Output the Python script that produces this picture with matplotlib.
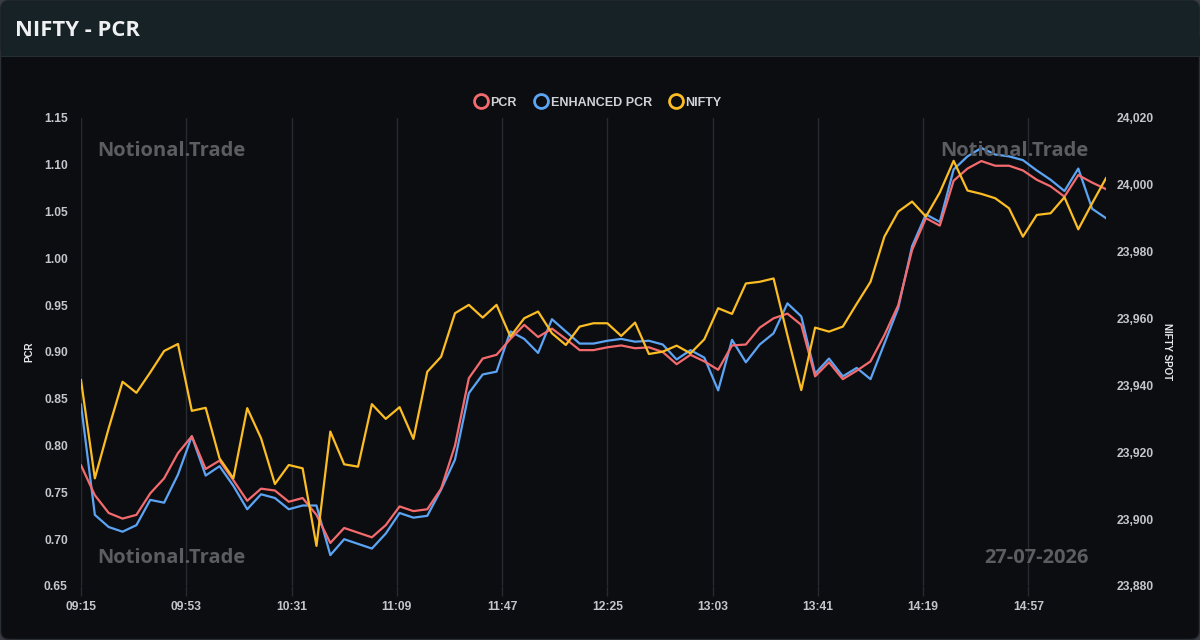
"""
NIFTY - PCR intraday chart (PCR, enhanced PCR and NIFTY spot on twin axes).
"""
import numpy as np
import matplotlib
matplotlib.use('Agg')
import matplotlib.pyplot as plt
from matplotlib.patches import FancyBboxPatch, Rectangle
from matplotlib.lines import Line2D
from matplotlib.ticker import FuncFormatter, FixedLocator

# Data (5 minute snapshots from 09:15 to 15:25)
minutes = list(range(0, 375, 5))

pcr = [0.779, 0.747, 0.728, 0.722, 0.726, 0.749, 0.765, 0.792, 0.810, 0.775,
       0.784, 0.763, 0.741, 0.754, 0.752, 0.740, 0.744, 0.726, 0.696, 0.712,
       0.707, 0.702, 0.715, 0.735, 0.730, 0.732, 0.754, 0.800, 0.872, 0.893,
       0.897, 0.914, 0.929, 0.916, 0.925, 0.914, 0.902, 0.902, 0.905, 0.907,
       0.904, 0.905, 0.900, 0.887, 0.897, 0.890, 0.881, 0.907, 0.908, 0.926,
       0.936, 0.941, 0.929, 0.874, 0.889, 0.871, 0.880, 0.890, 0.918, 0.950,
       1.009, 1.043, 1.035, 1.083, 1.096, 1.104, 1.099, 1.099, 1.094, 1.084,
       1.077, 1.066, 1.089, 1.081, 1.074]

enhanced_pcr = [0.844, 0.726, 0.713, 0.708, 0.715, 0.742, 0.739, 0.769, 0.810, 0.768,
                0.778, 0.757, 0.732, 0.748, 0.744, 0.732, 0.736, 0.736, 0.683, 0.700,
                0.695, 0.690, 0.706, 0.728, 0.723, 0.725, 0.753, 0.785, 0.856, 0.876,
                0.879, 0.922, 0.914, 0.899, 0.935, 0.922, 0.909, 0.909, 0.912, 0.914,
                0.911, 0.912, 0.908, 0.892, 0.902, 0.894, 0.859, 0.913, 0.889, 0.908,
                0.920, 0.952, 0.938, 0.877, 0.893, 0.874, 0.883, 0.871, 0.909, 0.947,
                1.013, 1.047, 1.039, 1.095, 1.109, 1.118, 1.111, 1.109, 1.105, 1.094,
                1.084, 1.072, 1.096, 1.053, 1.043]

nifty = [23941.6, 23912.2, 23927.2, 23941.1, 23937.8, 23943.9, 23950.3, 23952.4, 23932.4, 23933.3,
         23918.2, 23912.2, 23933.2, 23924.2, 23910.5, 23916.2, 23915.2, 23892.0, 23926.2, 23916.4,
         23915.7, 23934.4, 23930.0, 23933.5, 23924.0, 23944.1, 23948.6, 23961.6, 23964.1, 23960.3,
         23964.1, 23954.6, 23960.1, 23962.1, 23955.6, 23952.1, 23957.6, 23958.6, 23958.6, 23954.8,
         23958.8, 23949.4, 23950.1, 23951.9, 23949.6, 23953.8, 23963.1, 23961.4, 23970.5, 23971.0,
         23972.0, 23955.0, 23938.6, 23957.3, 23956.1, 23957.6, 23964.4, 23971.0, 23984.5, 23992.0,
         23995.0, 23990.5, 23997.7, 24007.2, 23998.3, 23997.3, 23996.0, 23993.0, 23984.5, 23991.0,
         23991.5, 23996.3, 23986.7, 23994.5, 24002.0]

tick_minutes = [0, 38, 76, 114, 152, 190, 228, 266, 304, 342]
tick_labels = ['09:15', '09:53', '10:31', '11:09', '11:47', '12:25', '13:03', '13:41', '14:19', '14:57']

# Colours
BG = '#0c0d11'
HEADER = '#172226'
GRID = '#272a30'
TXT = '#c3c6cc'
WM = '#5b5d61'
C_PCR = '#f46b6e'
C_ENH = '#5ca4f4'
C_NIFTY = '#fbbd23'

plt.rcParams['font.family'] = ['Liberation Sans', 'DejaVu Sans']

fig = plt.figure(figsize=(12, 6.4), dpi=100)
fig.patch.set_facecolor('#3a3e44')

# card + header
card = FancyBboxPatch((0.5 / 1200, 0.5 / 640), 1199 / 1200, 639 / 640,
                      boxstyle='round,pad=0,rounding_size=0.007',
                      transform=fig.transFigure, facecolor=BG, edgecolor='#2a2f35',
                      lw=1, zorder=-3, mutation_aspect=1200 / 640)
fig.patches.append(card)
header = FancyBboxPatch((0.5 / 1200, 1 - 56 / 640), 1199 / 1200, 55.5 / 640,
                        boxstyle='round,pad=0,rounding_size=0.007',
                        transform=fig.transFigure, facecolor=HEADER, edgecolor='none',
                        zorder=-2, mutation_aspect=1200 / 640)
fig.patches.append(header)
fig.patches.append(Rectangle((0.5 / 1200, 1 - 56 / 640), 1199 / 1200, 20 / 640,
                             transform=fig.transFigure, facecolor=HEADER,
                             edgecolor='none', zorder=-2))
fig.patches.append(Rectangle((0, 1 - 57 / 640), 1, 1.5 / 640,
                             transform=fig.transFigure, facecolor='#263034',
                             edgecolor='none', zorder=-1))
fig.text(15 / 1200, 1 - 31 / 640, 'NIFTY - PCR', color='#eef0f2', fontsize=15.8,
         fontweight='bold', family=['Open Sans', 'DejaVu Sans'], va='center', ha='left')

# axes
ax = fig.add_axes([81 / 1200, 1 - 586 / 640, 1025 / 1200, 468 / 640])
ax.set_facecolor('none')
ax2 = ax.twinx()

ax.plot(minutes, pcr, color=C_PCR, lw=1.6, zorder=3)
ax.plot(minutes, enhanced_pcr, color=C_ENH, lw=1.6, zorder=2)
ax2.plot(minutes, nifty, color=C_NIFTY, lw=1.6, zorder=1)

ax.set_xlim(0, 370)
ax.set_ylim(0.65, 1.15)
ax2.set_ylim(23880, 24020)

ax.xaxis.set_major_locator(FixedLocator(tick_minutes))
ax.set_xticklabels(tick_labels)
ax.set_yticks(np.arange(0.65, 1.151, 0.05))
ax.yaxis.set_major_formatter(FuncFormatter(lambda v, p: f'{v:.2f}'))
ax2.set_yticks(np.arange(23880, 24021, 20))
ax2.yaxis.set_major_formatter(FuncFormatter(lambda v, p: f'{v:,.0f}'))

ax.grid(axis='x', color=GRID, lw=1)
for a in (ax, ax2):
    for s in a.spines.values():
        s.set_visible(False)
ax.tick_params(axis='x', colors=GRID, length=7, width=1, pad=3.5, labelcolor=TXT, labelsize=8.7)
ax.tick_params(axis='y', length=0, pad=9.5, labelcolor=TXT, labelsize=8.7)
ax2.tick_params(axis='y', length=0, pad=8, labelcolor=TXT, labelsize=8.7)
for lab in ax.get_xticklabels() + ax.get_yticklabels() + ax2.get_yticklabels():
    lab.set_fontweight('bold')

ax.set_ylabel('PCR', color='#e6e8ea', fontsize=7, fontweight='bold', labelpad=7)
ax2.set_ylabel('NIFTY SPOT', color='#e6e8ea', fontsize=7, fontweight='bold',
               rotation=270, labelpad=13)

# watermarks
wm = dict(color=WM, fontsize=14.5, fontweight='bold', family=['Open Sans', 'DejaVu Sans'],
          va='center', transform=fig.transFigure, zorder=0)
fig.text(97 / 1200, 1 - 151 / 640, 'Notional.Trade', ha='left', **wm)
fig.text(97 / 1200, 1 - 558 / 640, 'Notional.Trade', ha='left', **wm)
fig.text(1089 / 1200, 1 - 151 / 640, 'Notional.Trade', ha='right', **wm)
fig.text(1089 / 1200, 1 - 558 / 640, '27-07-2026', ha='right', **wm)

# legend
handles = [Line2D([], [], ls='none', marker='o', ms=10, mfc='none', mew=2, color=c)
           for c in (C_PCR, C_ENH, C_NIFTY)]
leg = fig.legend(handles, ['PCR', 'ENHANCED PCR', 'NIFTY'], loc='center',
                 bbox_to_anchor=(598 / 1200, 1 - 102.5 / 640), ncol=3, frameon=False,
                 handletextpad=0.3, columnspacing=1.4, handlelength=1.0,
                 prop={'size': 9, 'weight': 'bold'})
for t in leg.get_texts():
    t.set_color('#cfd2d6')

plt.savefig('out.png', dpi=100, facecolor=fig.get_facecolor())
